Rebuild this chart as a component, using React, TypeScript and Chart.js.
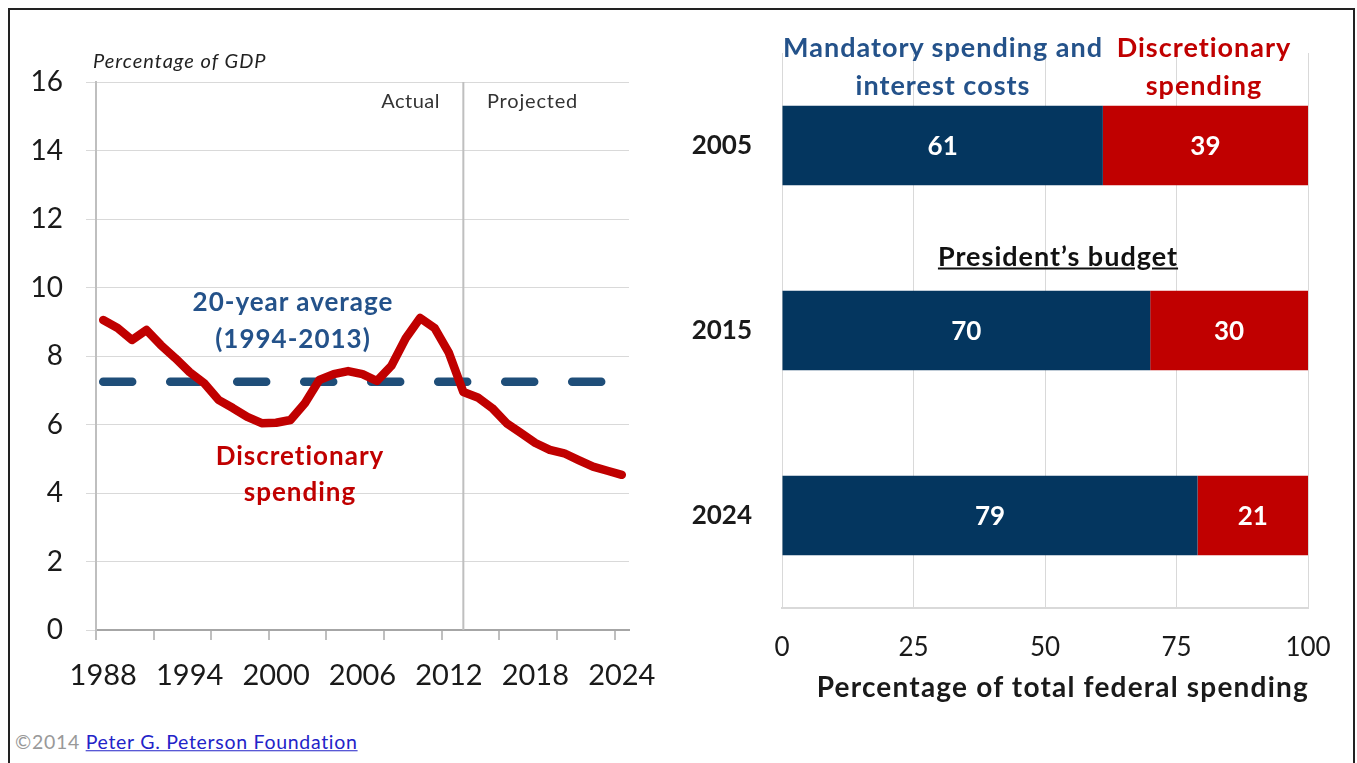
import React, { useEffect, useRef } from "react";
import { Chart, registerables } from "chart.js";

Chart.register(...registerables);

const FONT = "Lato, 'Open Sans', 'DejaVu Sans', sans-serif";
const RED = "#C00000";
const NAVY = "#04365F";
const BLUE_TEXT = "#24528A";
const DASH_BLUE = "#1F4E79";
const INK = "#1a1a1a";

// ---- Left chart data ----
const years = [
  "1988", "1989", "1990", "1991", "1992", "1993", "1994", "1995", "1996", "1997",
  "1998", "1999", "2000", "2001", "2002", "2003", "2004", "2005", "2006", "2007",
  "2008", "2009", "2010", "2011", "2012", "2013", "2014", "2015", "2016", "2017",
  "2018", "2019", "2020", "2021", "2022", "2023", "2024",
];
const discretionaryPctGdp = [
  9.05, 8.82, 8.47, 8.76, 8.32, 7.94, 7.53, 7.21, 6.72, 6.48,
  6.22, 6.04, 6.05, 6.13, 6.62, 7.3, 7.47, 7.56, 7.47, 7.27,
  7.71, 8.52, 9.11, 8.82, 8.09, 6.95, 6.79, 6.48, 6.04, 5.75,
  5.46, 5.26, 5.16, 4.96, 4.77, 4.65, 4.53,
];
const averageValue = 7.25;
const averageSpan = ["1988", "2024"];
const projectionYear = "2013";
const gdpTicks = [0, 2, 4, 6, 8, 10, 12, 14, 16];

// ---- Right chart data ----
const barYears = ["2005", "2015", "2024"];
const mandatoryShare = [61, 70, 79];
const discretionaryShare = [39, 30, 21];
const shareTicks = [0, 25, 50, 75, 100];

function LineChart() {
  const ref = useRef<HTMLCanvasElement>(null);
  useEffect(() => {
    const canvas = ref.current!;
    const projLine = {
      id: "projLine",
      beforeDatasetsDraw(chart: any) {
        const { ctx, chartArea, scales } = chart;
        const x = scales.x.getPixelForValue(years.indexOf(projectionYear));
        ctx.save();
        ctx.strokeStyle = "#bfbfbf";
        ctx.lineWidth = 2;
        ctx.beginPath();
        ctx.moveTo(x, chartArea.top);
        ctx.lineTo(x, chartArea.bottom);
        ctx.stroke();
        ctx.restore();
      },
    };
    const chart = new Chart(canvas, {
      type: "line",
      data: {
        labels: years,
        datasets: [
          {
            label: "Discretionary spending",
            data: discretionaryPctGdp,
            borderColor: RED,
            borderWidth: 8.5,
            pointRadius: 0,
            tension: 0,
            borderJoinStyle: "round",
            borderCapStyle: "round",
          },
          {
            label: "20-year average",
            data: averageSpan.map((y) => ({ x: y, y: averageValue })),
            borderColor: DASH_BLUE,
            borderWidth: 8.5,
            borderDash: [29, 38],
            borderCapStyle: "round",
            pointRadius: 0,
          },
        ] as any,
      },
      options: {
        animation: false,
        responsive: false,
        maintainAspectRatio: false,
        events: [],
        layout: { padding: { left: 0, top: 82, right: 51, bottom: 0 } },
        plugins: { legend: { display: false }, tooltip: { enabled: false } },
        scales: {
          x: {
            type: "category",
            offset: true,
            grid: {
              offset: true,
              drawOnChartArea: false,
              drawTicks: true,
              tickLength: 10,
              lineWidth: 2,
              color: (c: any) =>
                c.index % 4 === 0 && c.index < years.length ? "#bfbfbf" : "rgba(0,0,0,0)",
            },
            border: { color: "#a6a6a6", width: 2 },
            ticks: {
              autoSkip: false,
              maxRotation: 0,
              minRotation: 0,
              padding: 18,
              color: INK,
              font: { family: FONT, size: 29 },
              callback: (_v: any, i: number) => (i % 6 === 0 ? years[i] : ""),
            },
            afterFit: (s: any) => {
              s.height = 70;
            },
          },
          y: {
            min: gdpTicks[0],
            max: gdpTicks[gdpTicks.length - 1],
            afterBuildTicks: (s: any) => {
              s.ticks = gdpTicks.map((v) => ({ value: v }));
            },
            grid: { color: "#d9d9d9", lineWidth: 1, tickLength: 10, drawTicks: true },
            border: { color: "#bfbfbf", width: 2 },
            ticks: { padding: 23, color: INK, font: { family: FONT, size: 28 } },
            afterFit: (s: any) => {
              s.width = 96;
            },
          },
        },
      } as any,
      plugins: [projLine],
    });
    return () => chart.destroy();
  }, []);
  return (
    <canvas
      ref={ref}
      width={680}
      height={700}
      style={{ position: "absolute", left: 0, top: 0, width: 680, height: 700 }}
    />
  );
}

function BarChart() {
  const ref = useRef<HTMLCanvasElement>(null);
  useEffect(() => {
    const canvas = ref.current!;
    const barLabels = {
      id: "barLabels",
      afterDatasetsDraw(chart: any) {
        const { ctx } = chart;
        ctx.save();
        ctx.fillStyle = "#ffffff";
        ctx.font = `bold 26px ${FONT}`;
        ctx.textAlign = "center";
        ctx.textBaseline = "middle";
        chart.data.datasets.forEach((ds: any, di: number) => {
          const meta = chart.getDatasetMeta(di);
          meta.data.forEach((bar: any, i: number) => {
            const cx = (bar.x + bar.base) / 2;
            ctx.fillText(String(ds.data[i]), cx, bar.y + 1);
          });
        });
        ctx.restore();
      },
    };
    const chart = new Chart(canvas, {
      type: "bar",
      data: {
        labels: barYears,
        datasets: [
          {
            label: "Mandatory spending and interest costs",
            data: mandatoryShare,
            backgroundColor: NAVY,
            barPercentage: 0.43,
            categoryPercentage: 1,
          },
          {
            label: "Discretionary spending",
            data: discretionaryShare,
            backgroundColor: RED,
            barPercentage: 0.43,
            categoryPercentage: 1,
          },
        ],
      },
      options: {
        indexAxis: "y",
        animation: false,
        responsive: false,
        maintainAspectRatio: false,
        events: [],
        layout: { padding: { left: 0, top: 53, right: 49, bottom: 0 } },
        plugins: { legend: { display: false }, tooltip: { enabled: false } },
        scales: {
          x: {
            stacked: true,
            min: shareTicks[0],
            max: shareTicks[shareTicks.length - 1],
            afterBuildTicks: (s: any) => {
              s.ticks = shareTicks.map((v) => ({ value: v }));
            },
            grid: { color: "#d9d9d9", lineWidth: 1, drawTicks: false },
            border: { color: "#d9d9d9", width: 2 },
            ticks: { padding: 24, color: INK, font: { family: FONT, size: 26 } },
            afterFit: (s: any) => {
              s.height = 112;
            },
          },
          y: {
            stacked: true,
            grid: { display: false },
            border: { color: "#d9d9d9", width: 1 },
            ticks: { padding: 22, color: INK, font: { family: FONT, size: 26, weight: "bold" } },
            afterFit: (s: any) => {
              s.width = 122;
            },
          },
        },
      } as any,
      plugins: [barLabels],
    });
    return () => chart.destroy();
  }, []);
  return (
    <canvas
      ref={ref}
      width={697}
      height={720}
      style={{ position: "absolute", left: 660, top: 0, width: 697, height: 720 }}
    />
  );
}

function T({
  x,
  y,
  align = "center",
  style,
  children,
}: {
  x: number;
  y: number;
  align?: "left" | "center" | "right";
  style?: React.CSSProperties;
  children: React.ReactNode;
}) {
  const tx = align === "center" ? "-50%" : align === "right" ? "-100%" : "0";
  return (
    <div
      style={{
        position: "absolute",
        left: x,
        top: y,
        transform: `translate(${tx}, -50%)`,
        whiteSpace: "nowrap",
        lineHeight: 1,
        fontFamily: FONT,
        ...style,
      }}
    >
      {children}
    </div>
  );
}

export default function App() {
  const blueBold: React.CSSProperties = { fontWeight: 700, fontSize: 26, letterSpacing: 1, color: BLUE_TEXT };
  const redBold: React.CSSProperties = { fontWeight: 700, fontSize: 26, letterSpacing: 1, color: RED };
  const headBlue: React.CSSProperties = { fontWeight: 700, fontSize: 27, letterSpacing: 1, color: BLUE_TEXT };
  const headRed: React.CSSProperties = { fontWeight: 700, fontSize: 27, letterSpacing: 1, color: RED };
  return (
    <div
      style={{
        position: "absolute",
        left: 0,
        top: 0,
        width: 1357,
        height: 763,
        overflow: "hidden",
        background: "#ffffff",
        fontFamily: FONT,
      }}
    >
      <div
        style={{
          position: "absolute",
          left: 8,
          top: 8,
          width: 1347,
          height: 755,
          boxSizing: "border-box",
          borderTop: "2px solid #222",
          borderLeft: "2px solid #222",
          borderRight: "2px solid #222",
        }}
      />
      <LineChart />
      <BarChart />

      <T x={93} y={60} align="left" style={{ fontStyle: "italic", fontSize: 20, letterSpacing: 1, color: "#222" }}>
        Percentage of GDP
      </T>
      <T x={440} y={100} align="right" style={{ fontSize: 20, letterSpacing: 0.5, color: "#333" }}>
        Actual
      </T>
      <T x={487} y={100} align="left" style={{ fontSize: 20, letterSpacing: 0.8, color: "#333" }}>
        Projected
      </T>
      <T x={293} y={301} style={blueBold}>
        20-year average
      </T>
      <T x={293} y={338} style={blueBold}>
        (1994-2013)
      </T>
      <T x={300} y={455} style={redBold}>
        Discretionary
      </T>
      <T x={300} y={491} style={redBold}>
        spending
      </T>

      <T x={943} y={46} style={headBlue}>
        Mandatory spending and
      </T>
      <T x={943} y={84} style={headBlue}>
        interest costs
      </T>
      <T x={1204} y={46} style={headRed}>
        Discretionary
      </T>
      <T x={1204} y={84} style={headRed}>
        spending
      </T>
      <T
        x={1058}
        y={255}
        style={{ fontWeight: 700, fontSize: 27, letterSpacing: 1, color: "#111", textDecoration: "underline" }}
      >
        President’s budget
      </T>
      <T x={1309} y={686} align="right" style={{ fontWeight: 700, fontSize: 28, letterSpacing: 1.2, color: INK }}>
        Percentage of total federal spending
      </T>

      <T x={15} y={742} align="left" style={{ fontSize: 19.5, letterSpacing: 0.7 }}>
        <span style={{ color: "#999999" }}>©2014 </span>
        <a href="#" style={{ color: "#2323c8", textDecoration: "underline" }}>
          Peter G. Peterson Foundation
        </a>
      </T>
    </div>
  );
}
